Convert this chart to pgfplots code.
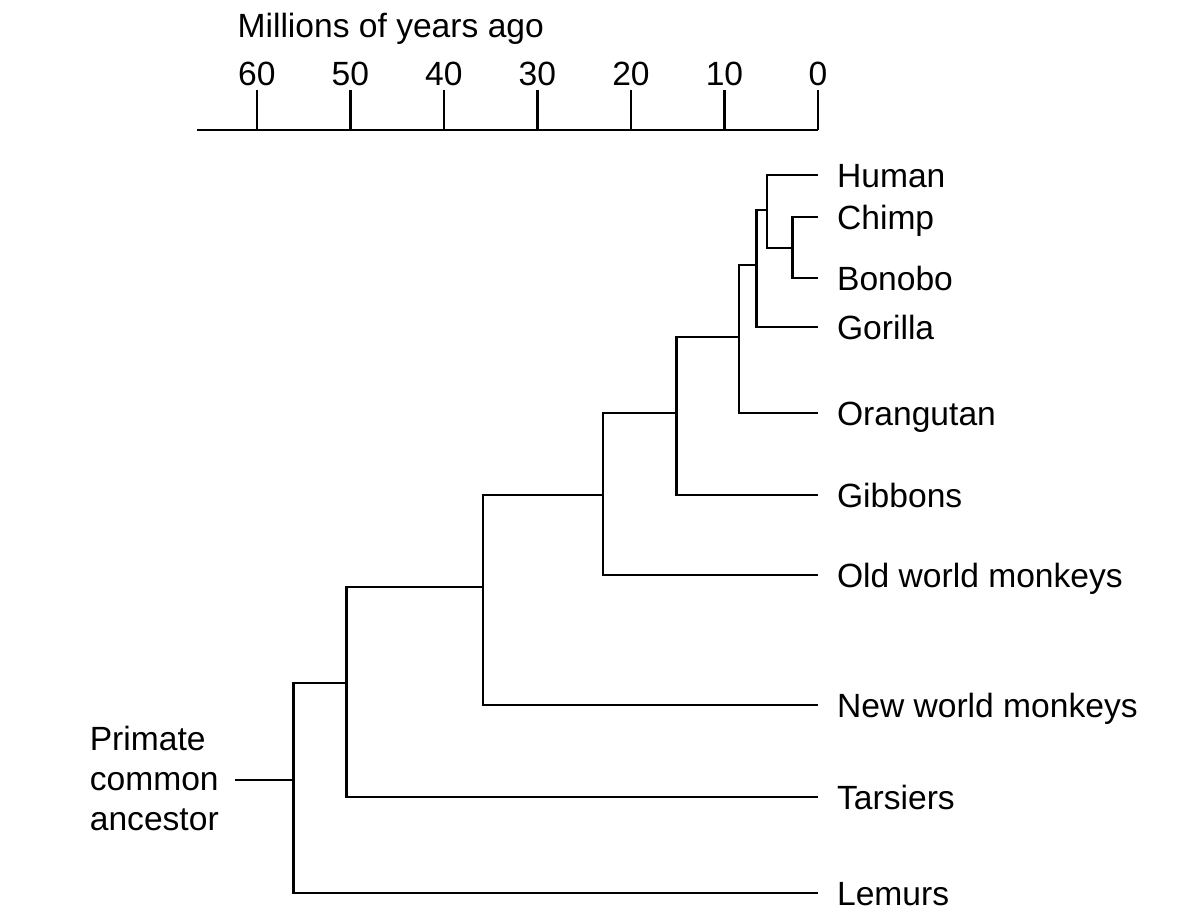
\documentclass[border=0pt]{standalone}
\usepackage{pgfplots}
\pgfplotsset{compat=1.18}
\usepackage{fontspec}
\setmainfont{Liberation Sans}
\begin{document}
\begin{tikzpicture}
\path[use as bounding box] (0,0) rectangle (596.5pt,-455pt);
\begin{axis}[
  at={(98.5pt,-65pt)}, anchor=north west,
  scale only axis, width=310.5pt, height=385pt,
  x dir=reverse, xmin=0, xmax=66.4,
  y dir=reverse, ymin=130, ymax=900,
  axis x line*=top, axis y line=none,
  axis line style={line width=1.35pt, black},
  xtick={0,10,20,30,40,50,60},
  tick align=outside, major tick length=20pt,
  tick style={line width=1.25pt, black},
  xticklabel style={font=\fontsize{16.8}{20}\selectfont, inner sep=1pt, yshift=1pt},
  /pgf/number format/assume math mode=true,
  clip=false,
  cycle list={{black, solid}},
  every axis plot post/.append style={black, solid, line width=1.3pt, line join=miter, mark=none},
]
% Chimp / Bonobo
\addplot coordinates {(0,217) (2.7,217) (2.7,278) (0,278)};
% Human
\addplot coordinates {(0,175) (5.45,175) (5.45,248) (2.7,248)};
% Gorilla
\addplot coordinates {(5.45,210) (6.6,210) (6.6,327) (0,327)};
% Orangutan
\addplot coordinates {(6.6,265) (8.45,265) (8.45,413) (0,413)};
% Gibbons
\addplot coordinates {(8.45,337) (15.1,337) (15.1,495) (0,495)};
% Old world monkeys
\addplot coordinates {(15.1,413) (23.0,413) (23.0,575) (0,575)};
% New world monkeys
\addplot coordinates {(23.0,495) (35.8,495) (35.8,705) (0,705)};
% Tarsiers
\addplot coordinates {(35.8,587) (50.4,587) (50.4,797) (0,797)};
% Lemurs
\addplot coordinates {(50.4,683) (56.1,683) (56.1,893) (0,893)};
% Common ancestor stem
\addplot coordinates {(62.35,780) (56.1,780)};

\begin{scope}[every node/.style={font=\fontsize{16.8}{20}\selectfont, inner sep=0pt}]
\node[anchor=base west, yshift=-6pt] at (axis cs:-2.0,175) {Human};
\node[anchor=base west, yshift=-6pt] at (axis cs:-2.0,217) {Chimp};
\node[anchor=base west, yshift=-6pt] at (axis cs:-2.0,278) {Bonobo};
\node[anchor=base west, yshift=-6pt] at (axis cs:-2.0,327) {Gorilla};
\node[anchor=base west, yshift=-6pt] at (axis cs:-2.0,413) {Orangutan};
\node[anchor=base west, yshift=-6pt] at (axis cs:-2.0,495) {Gibbons};
\node[anchor=base west, yshift=-6pt] at (axis cs:-2.0,575) {Old world monkeys};
\node[anchor=base west, yshift=-6pt] at (axis cs:-2.0,705) {New world monkeys};
\node[anchor=base west, yshift=-6pt] at (axis cs:-2.0,797) {Tarsiers};
\node[anchor=base west, yshift=-6pt] at (axis cs:-2.0,893) {Lemurs};
\node[anchor=west, align=left] at (axis cs:77.9,778) {Primate\\common\\ancestor};
\node[anchor=base west] at (axis cs:62.1,37) {Millions of years ago};
\end{scope}
\end{axis}
\end{tikzpicture}
\end{document}
